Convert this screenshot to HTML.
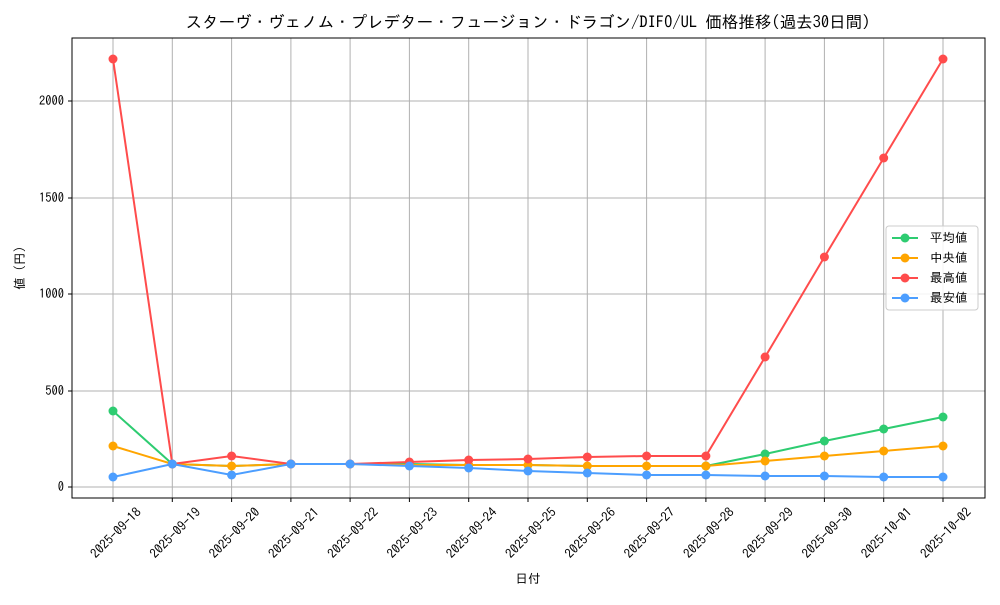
<!DOCTYPE html>
<html><head><meta charset="utf-8"><style>
body{margin:0;background:#fff}
svg text{font-family:"IPAGothic","Noto Sans CJK JP",monospace;fill:#000}
</style></head><body>
<svg width="1000" height="600" xmlns="http://www.w3.org/2000/svg">
<rect width="1000" height="600" fill="#fff"/>
<text x="528" y="28" font-size="16.5" text-anchor="middle">スターヴ・ヴェノム・プレデター・フュージョン・ドラゴン/DIFO/UL 価格推移(過去30日間)</text>
<g stroke="#b0b0b0" stroke-width="1">
<line x1="72" x2="985" y1="487" y2="487"/><line x1="72" x2="985" y1="391" y2="391"/><line x1="72" x2="985" y1="294" y2="294"/><line x1="72" x2="985" y1="198" y2="198"/><line x1="72" x2="985" y1="101" y2="101"/>
</g>
<g stroke="#b0b0b0" stroke-width="1">
<line x1="113" x2="113" y1="38" y2="498"/><line x1="172.3" x2="172.3" y1="38" y2="498"/><line x1="231.6" x2="231.6" y1="38" y2="498"/><line x1="290.9" x2="290.9" y1="38" y2="498"/><line x1="350.1" x2="350.1" y1="38" y2="498"/><line x1="409.4" x2="409.4" y1="38" y2="498"/><line x1="468.7" x2="468.7" y1="38" y2="498"/><line x1="528" x2="528" y1="38" y2="498"/><line x1="587.3" x2="587.3" y1="38" y2="498"/><line x1="646.6" x2="646.6" y1="38" y2="498"/><line x1="705.9" x2="705.9" y1="38" y2="498"/><line x1="765.1" x2="765.1" y1="38" y2="498"/><line x1="824.4" x2="824.4" y1="38" y2="498"/><line x1="883.7" x2="883.7" y1="38" y2="498"/><line x1="943" x2="943" y1="38" y2="498"/>
</g>
<g stroke="#000">
<line x1="113" x2="113" y1="498" y2="502"/><line x1="172.3" x2="172.3" y1="498" y2="502"/><line x1="231.6" x2="231.6" y1="498" y2="502"/><line x1="290.9" x2="290.9" y1="498" y2="502"/><line x1="350.1" x2="350.1" y1="498" y2="502"/><line x1="409.4" x2="409.4" y1="498" y2="502"/><line x1="468.7" x2="468.7" y1="498" y2="502"/><line x1="528" x2="528" y1="498" y2="502"/><line x1="587.3" x2="587.3" y1="498" y2="502"/><line x1="646.6" x2="646.6" y1="498" y2="502"/><line x1="705.9" x2="705.9" y1="498" y2="502"/><line x1="765.1" x2="765.1" y1="498" y2="502"/><line x1="824.4" x2="824.4" y1="498" y2="502"/><line x1="883.7" x2="883.7" y1="498" y2="502"/><line x1="943" x2="943" y1="498" y2="502"/>
</g>
<rect x="72" y="38" width="913" height="460" fill="none" stroke="#000" stroke-width="1"/>
<g font-size="12.5" text-anchor="end">
<text x="64" y="491">0</text><text x="64" y="395">500</text><text x="64" y="298">1000</text><text x="64" y="202">1500</text><text x="64" y="105">2000</text>
</g>
<g stroke="#000"><line x1="68" x2="72" y1="487" y2="487"/><line x1="68" x2="72" y1="391" y2="391"/><line x1="68" x2="72" y1="294" y2="294"/><line x1="68" x2="72" y1="198" y2="198"/><line x1="68" x2="72" y1="101" y2="101"/></g>
<g font-size="13" text-anchor="end">
<text transform="translate(142,513) rotate(-45)">2025-09-18</text><text transform="translate(201.3,513) rotate(-45)">2025-09-19</text><text transform="translate(260.6,513) rotate(-45)">2025-09-20</text><text transform="translate(319.9,513) rotate(-45)">2025-09-21</text><text transform="translate(379.1,513) rotate(-45)">2025-09-22</text><text transform="translate(438.4,513) rotate(-45)">2025-09-23</text><text transform="translate(497.7,513) rotate(-45)">2025-09-24</text><text transform="translate(557,513) rotate(-45)">2025-09-25</text><text transform="translate(616.3,513) rotate(-45)">2025-09-26</text><text transform="translate(675.6,513) rotate(-45)">2025-09-27</text><text transform="translate(734.9,513) rotate(-45)">2025-09-28</text><text transform="translate(794.1,513) rotate(-45)">2025-09-29</text><text transform="translate(853.4,513) rotate(-45)">2025-09-30</text><text transform="translate(912.7,513) rotate(-45)">2025-10-01</text><text transform="translate(972,513) rotate(-45)">2025-10-02</text>
</g>
<text x="528" y="583" font-size="12.5" text-anchor="middle">日付</text>
<text transform="translate(24,268) rotate(-90)" font-size="12.5" text-anchor="middle">値 (円)</text>
<g fill="none" stroke-width="2">
<polyline stroke="#2ecc71" points="113,411 172.3,464 231.6,466 290.9,464 350.1,464 409.4,464 468.7,465 528,465 587.3,466 646.6,466 705.9,466 765.1,454 824.4,441 883.7,429 943,417"/>
<polyline stroke="#ffa500" points="113,446 172.3,464 231.6,466 290.9,464 350.1,464 409.4,465 468.7,465 528,465 587.3,466 646.6,466 705.9,466 765.1,461 824.4,456 883.7,451 943,446"/>
<polyline stroke="#ff4c4c" points="113,59 172.3,464 231.6,456 290.9,464 350.1,464 409.4,462 468.7,460 528,459 587.3,457 646.6,456 705.9,456 765.1,357 824.4,257 883.7,158 943,59"/>
<polyline stroke="#4c9eff" points="113,477 172.3,464 231.6,475 290.9,464 350.1,464 409.4,466 468.7,468 528,471 587.3,473 646.6,475 705.9,475 765.1,476 824.4,476 883.7,477 943,477"/>
</g>
<g fill="#2ecc71"><circle cx="113" cy="411" r="4.5"/><circle cx="765.1" cy="454" r="4.5"/><circle cx="824.4" cy="441" r="4.5"/><circle cx="883.7" cy="429" r="4.5"/><circle cx="943" cy="417" r="4.5"/><circle cx="705.9" cy="466" r="4.5"/></g>
<g fill="#ffa500"><circle cx="113" cy="446" r="4.5"/><circle cx="172.3" cy="464" r="4.5"/><circle cx="231.6" cy="466" r="4.5"/><circle cx="290.9" cy="464" r="4.5"/><circle cx="350.1" cy="464" r="4.5"/><circle cx="409.4" cy="465" r="4.5"/><circle cx="468.7" cy="465" r="4.5"/><circle cx="528" cy="465" r="4.5"/><circle cx="587.3" cy="466" r="4.5"/><circle cx="646.6" cy="466" r="4.5"/><circle cx="705.9" cy="466" r="4.5"/><circle cx="765.1" cy="461" r="4.5"/><circle cx="824.4" cy="456" r="4.5"/><circle cx="883.7" cy="451" r="4.5"/><circle cx="943" cy="446" r="4.5"/></g>
<g fill="#ff4c4c"><circle cx="113" cy="59" r="4.5"/><circle cx="172.3" cy="464" r="4.5"/><circle cx="231.6" cy="456" r="4.5"/><circle cx="290.9" cy="464" r="4.5"/><circle cx="350.1" cy="464" r="4.5"/><circle cx="409.4" cy="462" r="4.5"/><circle cx="468.7" cy="460" r="4.5"/><circle cx="528" cy="459" r="4.5"/><circle cx="587.3" cy="457" r="4.5"/><circle cx="646.6" cy="456" r="4.5"/><circle cx="705.9" cy="456" r="4.5"/><circle cx="765.1" cy="357" r="4.5"/><circle cx="824.4" cy="257" r="4.5"/><circle cx="883.7" cy="158" r="4.5"/><circle cx="943" cy="59" r="4.5"/></g>
<g fill="#4c9eff"><circle cx="113" cy="477" r="4.5"/><circle cx="172.3" cy="464" r="4.5"/><circle cx="231.6" cy="475" r="4.5"/><circle cx="290.9" cy="464" r="4.5"/><circle cx="350.1" cy="464" r="4.5"/><circle cx="409.4" cy="466" r="4.5"/><circle cx="468.7" cy="468" r="4.5"/><circle cx="528" cy="471" r="4.5"/><circle cx="587.3" cy="473" r="4.5"/><circle cx="646.6" cy="475" r="4.5"/><circle cx="705.9" cy="475" r="4.5"/><circle cx="765.1" cy="476" r="4.5"/><circle cx="824.4" cy="476" r="4.5"/><circle cx="883.7" cy="477" r="4.5"/><circle cx="943" cy="477" r="4.5"/></g>
<rect x="886" y="226" width="92" height="84" rx="3" fill="#fff" fill-opacity="0.85" stroke="#ccc"/>
<g stroke-width="2">
<line x1="892" x2="918" y1="238" y2="238" stroke="#2ecc71"/><circle cx="905" cy="238" r="4.5" fill="#2ecc71"/>
<line x1="892" x2="918" y1="258" y2="258" stroke="#ffa500"/><circle cx="905" cy="258" r="4.5" fill="#ffa500"/>
<line x1="892" x2="918" y1="278" y2="278" stroke="#ff4c4c"/><circle cx="905" cy="278" r="4.5" fill="#ff4c4c"/>
<line x1="892" x2="918" y1="298" y2="298" stroke="#4c9eff"/><circle cx="905" cy="298" r="4.5" fill="#4c9eff"/>
</g>
<g font-size="12.5"><text x="930" y="242">平均値</text><text x="930" y="262">中央値</text><text x="930" y="282">最高値</text><text x="930" y="302">最安値</text></g>
</svg>
</body></html>
